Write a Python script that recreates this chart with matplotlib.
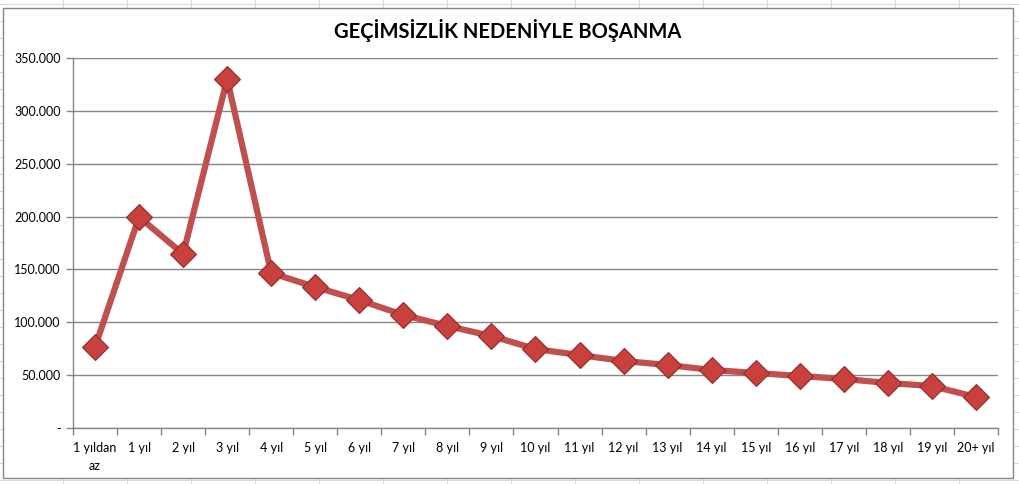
import matplotlib
matplotlib.use('Agg')
import matplotlib.pyplot as plt
from matplotlib.lines import Line2D
from matplotlib.patches import Rectangle
from matplotlib.ticker import FuncFormatter

# data
categories = ['1 yıldan\naz', '1 yıl', '2 yıl', '3 yıl', '4 yıl', '5 yıl', '6 yıl',
              '7 yıl', '8 yıl', '9 yıl', '10 yıl', '11 yıl', '12 yıl', '13 yıl',
              '14 yıl', '15 yıl', '16 yıl', '17 yıl', '18 yıl', '19 yıl', '20+ yıl']
divorces = [76600, 199600, 164600, 330100, 146600, 133400, 121000, 106900, 96500,
            87000, 74700, 69000, 63400, 59600, 54900, 52000, 49200, 46400, 42600,
            39700, 29300]
y_ticks = [0, 50000, 100000, 150000, 200000, 250000, 300000, 350000]

plt.rcParams['font.family'] = ['Lato', 'DejaVu Sans']

fig = plt.figure(figsize=(10.2, 4.84), dpi=100)
W, H = 1020, 484

# faint spreadsheet cells behind the chart
cell = '#d9d9d9'
for x in range(63, W, 64):
    fig.add_artist(Line2D([x / W, x / W], [0, 1], color=cell, lw=0.8, zorder=0))
for y in range(4, H, 17):
    fig.add_artist(Line2D([0, 1], [y / H, y / H], color=cell, lw=0.8, zorder=0))

# chart area with gray border
fig.add_artist(Rectangle((3 / W, 6 / H), 1010 / W, 470 / H, facecolor='white',
                         edgecolor='#868686', lw=1, zorder=1))

ax = fig.add_axes([73 / W, 56 / H, 925 / W, 370 / H], zorder=2)
ax.set_facecolor('none')

x = list(range(len(categories)))
ax.plot(x, divorces, color='#C0504D', lw=4.5, marker='D', markersize=13,
        markerfacecolor='#C9403D', markeredgecolor='#8C2D2A', markeredgewidth=0.8,
        solid_joinstyle='round', zorder=3)

ax.set_xlim(-0.5, len(categories) - 0.5)
ax.set_ylim(0, 350000)
ax.set_yticks(y_ticks)
ax.yaxis.set_major_formatter(FuncFormatter(
    lambda v, p: '-' if v == 0 else f'{int(v):,}'.replace(',', '.')))
ax.grid(axis='y', color='#868686', lw=1)
ax.set_axisbelow(True)

# category labels centred, tick marks on category boundaries
ax.set_xticks(x)
ax.set_xticklabels(categories, fontsize=9, linespacing=1.6)
ax.set_xticks([i - 0.5 for i in range(len(categories) + 1)], minor=True)
ax.tick_params(axis='x', which='major', length=0, pad=10)
ax.tick_params(axis='x', which='minor', length=5, color='#868686', width=1)
ax.tick_params(axis='y', length=5, color='#868686', width=1, labelsize=9, pad=4)
for lab in ax.get_xticklabels():
    lab.set_verticalalignment('top')

for side in ['top', 'right']:
    ax.spines[side].set_visible(False)
for side in ['left', 'bottom']:
    ax.spines[side].set_color('#868686')
    ax.spines[side].set_linewidth(1)

fig.text(508 / W, 1 - 30 / H, 'GEÇİMSİZLİK NEDENİYLE BOŞANMA', ha='center',
         va='center', fontsize=14.5, fontweight='bold')

fig.savefig('out.png', dpi=100)
